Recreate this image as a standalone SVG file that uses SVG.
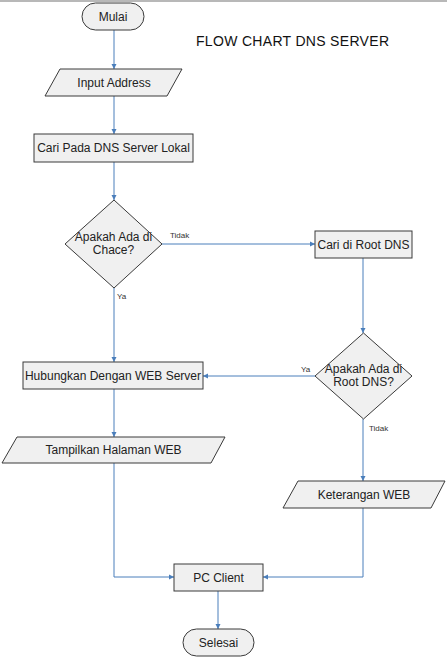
<svg xmlns="http://www.w3.org/2000/svg" width="447" height="658" viewBox="0 0 447 658">
<style>
.n{fill:#f0f0f0;stroke:#3a3a3a;stroke-width:1}
.t{font-family:"Liberation Sans",Arial,sans-serif;font-size:12px;fill:#222;text-anchor:middle}
.l{font-family:"Liberation Sans",Arial,sans-serif;font-size:8px;fill:#333}
.c{fill:none;stroke:#4a7ebb;stroke-width:1}
</style>
<defs>
<marker id="a" markerWidth="6" markerHeight="6" refX="5" refY="3" orient="auto" markerUnits="userSpaceOnUse">
<path d="M0,0.5 L5,3 L0,5.5 Z" fill="#4a7ebb"/>
</marker>
</defs>
<rect width="447" height="658" fill="#fff"/>
<line x1="0" y1="1" x2="447" y2="1" stroke="#a0a0a0" stroke-width="1.5"/>
<text x="196" y="46" font-family="'Liberation Sans',Arial,sans-serif" font-size="14" fill="#111" textLength="193">FLOW CHART DNS SERVER</text>
<g id="connectors">
<path class="c" d="M114,30 V69" marker-end="url(#a)"/>
<path class="c" d="M114,96 V134" marker-end="url(#a)"/>
<path class="c" d="M114,162 V200" marker-end="url(#a)"/>
<path class="c" d="M162,244 H315" marker-end="url(#a)"/>
<path class="c" d="M114,288 V362" marker-end="url(#a)"/>
<path class="c" d="M363,258 V333" marker-end="url(#a)"/>
<path class="c" d="M315,376 H203" marker-end="url(#a)"/>
<path class="c" d="M114,389 V437" marker-end="url(#a)"/>
<path class="c" d="M363,419 V481" marker-end="url(#a)"/>
<path class="c" d="M114,463 V577 H174" marker-end="url(#a)"/>
<path class="c" d="M363,508 V577 H263" marker-end="url(#a)"/>
<path class="c" d="M218,591 V629" marker-end="url(#a)"/>
<text class="l" x="170" y="238">Tidak</text>
<text class="l" x="117" y="299">Ya</text>
<text class="l" x="301" y="372">Ya</text>
<text class="l" x="369" y="431">Tidak</text>
</g>
<g id="mulai">
<rect class="n" x="82" y="3" width="62" height="27" rx="13.5"/>
<text class="t" x="113" y="21">Mulai</text>
</g>
<g id="input">
<polygon class="n" points="60,69 182,69 167,96 45,96"/>
<text class="t" x="114" y="87">Input Address</text>
</g>
<g id="cari">
<rect class="n" x="34" y="134" width="159" height="28"/>
<text class="t" x="113.5" y="152">Cari Pada DNS Server Lokal</text>
</g>
<g id="cache">
<polygon class="n" points="114,200 162,244 114,288 65,244"/>
<text class="t" x="113.5" y="241">Apakah Ada di</text>
<text class="t" x="113.5" y="254">Chace?</text>
</g>
<g id="root">
<rect class="n" x="315" y="231" width="97" height="27"/>
<text class="t" x="363.5" y="249">Cari di Root DNS</text>
</g>
<g id="rootq">
<polygon class="n" points="363.5,333 412,376 363.5,419 315,376"/>
<text class="t" x="363.5" y="373">Apakah Ada di</text>
<text class="t" x="363.5" y="386">Root DNS?</text>
</g>
<g id="hub">
<rect class="n" x="23" y="362" width="180" height="27"/>
<text class="t" x="113" y="380">Hubungkan Dengan WEB Server</text>
</g>
<g id="tampil">
<polygon class="n" points="17,437 225,437 211,463 2,463"/>
<text class="t" x="113.5" y="454">Tampilkan Halaman WEB</text>
</g>
<g id="ket">
<polygon class="n" points="298,481 445,481 431,508 283,508"/>
<text class="t" x="364" y="499">Keterangan WEB</text>
</g>
<g id="pc">
<rect class="n" x="174" y="564" width="89" height="27"/>
<text class="t" x="218.5" y="582">PC Client</text>
</g>
<g id="selesai">
<rect class="n" x="183" y="629" width="71" height="27" rx="13.5"/>
<text class="t" x="218.5" y="647">Selesai</text>
</g>
</svg>
